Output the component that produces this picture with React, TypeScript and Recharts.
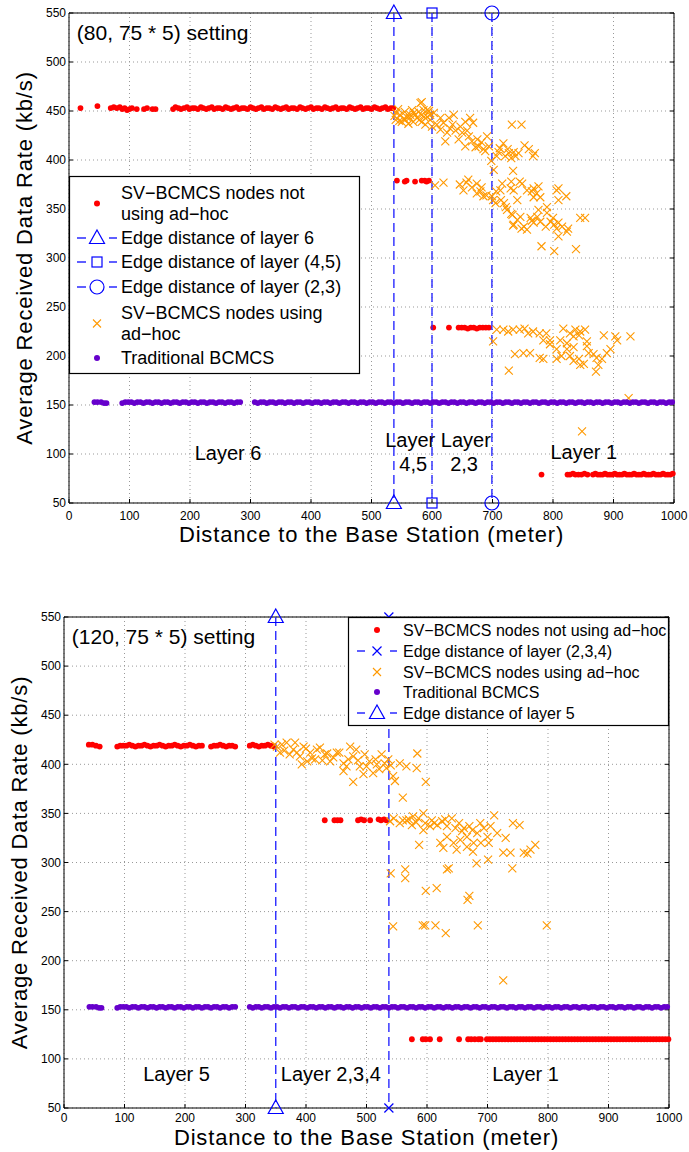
import React from 'react';
import { ScatterChart, Scatter, XAxis, YAxis, CartesianGrid, ReferenceDot } from 'recharts';

const FONT = '"Liberation Sans", Arial, Helvetica, sans-serif';
const RED = '#ff0000';
const ORANGE = '#ff9900';
const PURPLE = '#6600cc';
const BLUE = '#0000ff';
const DASH_BLUE = '#2a2aff';

const xTicks = [0, 100, 200, 300, 400, 500, 600, 700, 800, 900, 1000];
const yTicks = [50, 100, 150, 200, 250, 300, 350, 400, 450, 500, 550];
const yDomain = [50, 550];

// ---- (80, 75*5) setting ----
const topDirectRates = [
  [19, 453], [47, 455], [69, 453], [74, 454], [79, 453], [84, 454], [88, 452], [92, 453], [96, 451], [100, 452],
  [104, 453], [112, 452], [124, 452], [129, 453], [138, 452], [143, 452], [172, 452], [176, 454], [181, 453], [185, 452],
  [190, 453], [195, 454], [199, 452], [204, 453], [208, 453], [213, 452], [218, 454], [222, 453], [227, 452], [231, 453],
  [236, 454], [240, 452], [245, 453], [249, 453], [254, 452], [259, 454], [263, 453], [268, 452], [272, 453], [277, 454],
  [281, 452], [286, 453], [290, 453], [295, 452], [300, 454], [304, 453], [309, 452], [313, 453], [318, 454], [322, 452],
  [327, 453], [331, 453], [336, 452], [341, 454], [345, 453], [350, 452], [354, 453], [359, 454], [363, 452], [368, 453],
  [372, 453], [377, 452], [382, 454], [386, 453], [391, 452], [395, 453], [400, 454], [404, 452], [409, 453], [413, 453],
  [418, 452], [423, 454], [427, 453], [432, 452], [436, 453], [441, 454], [445, 452], [450, 453], [454, 453], [459, 452],
  [464, 454], [468, 453], [473, 452], [477, 453], [482, 454], [486, 452], [491, 453], [495, 453], [500, 452], [505, 454],
  [509, 453], [514, 452], [518, 453], [523, 454], [527, 452], [532, 453], [536, 453],
  [542, 379], [555, 378], [558, 379], [572, 378], [583, 379], [588, 379], [591, 378], [595, 379],
  [602, 229], [628, 229], [644, 229], [649, 229], [654, 229], [659, 228], [664, 229], [669, 229], [674, 228], [679, 229],
  [684, 229], [689, 229], [694, 229],
  [781, 79], [824, 79], [828, 79], [833, 80], [837, 79], [842, 79], [847, 79], [852, 80], [857, 79], [866, 79],
  [870, 80], [874, 79], [878, 79], [882, 79], [886, 80], [890, 79], [894, 79], [898, 79], [902, 80], [906, 79],
  [910, 79], [914, 79], [918, 80], [922, 79], [926, 79], [930, 79], [934, 80], [938, 79], [942, 79], [946, 79],
  [950, 80], [954, 79], [958, 79], [962, 79], [966, 80], [970, 79], [974, 79], [978, 79], [982, 80], [986, 79],
  [990, 79], [994, 79], [998, 80],
];

const topAdhocRates = [
  [541, 448], [544, 452], [547, 446], [550, 439], [553, 442], [555, 449], [558, 444], [561, 437], [564, 446], [567, 451],
  [569, 439], [572, 446], [575, 443], [578, 449], [581, 458], [583, 446], [583, 439], [586, 451], [589, 436], [592, 444],
  [592, 451], [595, 450], [597, 441], [597, 446], [600, 434], [603, 448], [538, 445], [540, 441], [546, 440], [556, 441],
  [563, 443], [570, 448], [579, 441], [587, 444], [583, 459],
  [614, 431], [614, 443], [619, 438], [622, 419], [625, 428], [628, 443], [634, 436], [636, 446], [639, 430], [644, 421],
  [650, 428], [655, 439], [655, 414], [661, 424], [663, 443], [666, 419], [668, 438], [672, 413], [677, 414], [685, 411],
  [691, 424], [694, 414], [608, 436], [630, 432], [647, 434], [658, 430], [675, 421], [682, 418], [688, 409],
  [732, 436], [748, 436],
  [698, 399], [702, 390], [707, 404], [710, 408], [718, 417], [721, 404], [727, 407], [735, 408], [738, 404], [743, 407],
  [753, 415], [767, 404], [770, 407], [712, 412], [725, 411], [731, 402], [760, 411], [734, 389],
  [605, 374], [619, 377], [646, 375], [652, 369], [657, 377], [660, 380], [666, 372], [674, 366], [674, 376], [680, 368],
  [682, 372], [685, 363], [690, 364], [699, 363], [701, 359], [705, 356], [706, 368], [713, 369], [714, 359], [716, 376],
  [719, 356], [722, 352], [724, 349], [730, 371], [731, 378], [731, 345], [733, 344], [735, 369], [735, 334], [741, 359],
  [741, 339], [745, 378], [746, 342], [748, 330], [749, 376], [752, 332], [757, 369], [757, 329], [763, 341], [765, 368],
  [765, 338], [768, 371], [768, 362], [768, 336], [773, 366], [774, 342], [776, 373], [776, 349], [779, 362], [779, 337],
  [781, 312], [788, 332], [790, 352], [790, 346], [796, 337], [800, 341], [802, 334], [802, 307], [806, 369], [806, 330],
  [809, 371], [809, 359], [809, 336], [809, 322], [815, 332], [822, 363], [823, 327], [825, 330], [838, 309], [845, 341],
  [853, 341], [734, 333],
  [701, 215], [707, 227], [718, 227], [726, 225], [734, 227], [745, 227], [753, 228], [759, 223], [767, 225], [778, 223],
  [789, 223], [795, 216], [784, 216], [817, 228], [828, 223], [837, 227], [845, 225], [853, 227], [834, 220], [843, 221],
  [884, 221], [903, 220], [928, 220], [906, 216], [812, 216], [823, 213], [856, 215], [737, 202], [751, 203], [762, 203],
  [778, 198], [784, 197], [806, 197], [814, 200], [823, 207], [828, 200], [834, 195], [843, 197], [851, 192], [845, 191],
  [859, 203], [867, 202], [872, 198], [881, 197], [889, 203], [895, 207], [875, 191], [871, 184], [727, 185], [795, 212],
  [806, 207], [834, 209], [856, 210], [925, 157], [848, 123],
];

const topEdges = [
  { x: 537, marker: 'triangle' },
  { x: 600, marker: 'square' },
  { x: 699, marker: 'circle' },
];

// same node layout is used by the traditional scheme in both settings
const traditionalRates = [
  [42, 153], [47, 153], [53, 153], [58, 152], [62, 152], [88, 152], [93, 153], [98, 153], [103, 153], [108, 152],
  [113, 153], [118, 153], [123, 152], [128, 153], [133, 153], [138, 152], [143, 153], [148, 153], [153, 152], [158, 153],
  [163, 153], [168, 152], [173, 153], [178, 153], [183, 152], [188, 153], [193, 153], [198, 152], [203, 153], [208, 153],
  [213, 152], [218, 153], [223, 153], [228, 152], [233, 153], [238, 153], [243, 152], [248, 153], [253, 153], [258, 152],
  [263, 153], [268, 153], [273, 152], [278, 153], [283, 153], [307, 153], [312, 152], [317, 153], [322, 153], [327, 152],
  [332, 153], [337, 153], [342, 152], [347, 153], [352, 153], [357, 152], [362, 153], [367, 153], [372, 152], [377, 153],
  [382, 153], [387, 152], [392, 153], [397, 153], [402, 152], [407, 153], [412, 153], [417, 152], [422, 153], [427, 153],
  [432, 152], [437, 153], [442, 153], [447, 152], [452, 153], [457, 153], [462, 152], [467, 153], [472, 153], [477, 152],
  [482, 153], [487, 153], [492, 152], [497, 153], [502, 153], [507, 152], [512, 153], [517, 153], [522, 152], [527, 153],
  [532, 153], [537, 152], [542, 153], [547, 153], [552, 152], [557, 153], [562, 153], [567, 152], [572, 153], [577, 153],
  [582, 152], [587, 153], [592, 153], [597, 152], [602, 153], [607, 153], [612, 152], [617, 153], [622, 153], [627, 152],
  [632, 153], [637, 153], [642, 152], [647, 153], [652, 153], [657, 152], [662, 153], [667, 153], [672, 152], [677, 153],
  [682, 153], [687, 152], [692, 153], [697, 153], [702, 152], [707, 153], [712, 153], [717, 152], [722, 153], [727, 153],
  [732, 152], [737, 153], [742, 153], [747, 152], [752, 153], [757, 153], [762, 152], [767, 153], [772, 153], [777, 152],
  [782, 153], [787, 153], [792, 152], [797, 153], [802, 153], [807, 152], [812, 153], [817, 153], [822, 152], [827, 153],
  [832, 153], [837, 152], [842, 153], [847, 153], [852, 152], [857, 153], [862, 153], [867, 152], [872, 153], [877, 153],
  [882, 152], [887, 153], [892, 153], [897, 152], [902, 153], [907, 153], [912, 152], [917, 153], [922, 153], [927, 152],
  [932, 153], [937, 153], [942, 152], [947, 153], [952, 153], [957, 152], [962, 153], [967, 153], [972, 152], [977, 153],
  [982, 153], [987, 152], [992, 153], [997, 153],
];

// ---- (120, 75*5) setting ----
const bottomDirectRates = [
  [41, 420], [47, 420], [53, 419], [59, 418], [88, 418], [93, 419], [98, 419], [103, 419], [108, 420], [113, 419],
  [118, 418], [123, 419], [128, 419], [133, 420], [138, 419], [143, 418], [148, 419], [153, 419], [158, 420], [163, 419],
  [168, 418], [173, 419], [178, 419], [183, 420], [188, 419], [193, 418], [198, 419], [203, 419], [208, 420], [213, 419],
  [218, 418], [223, 419], [228, 419], [243, 418], [248, 419], [253, 419], [258, 420], [263, 419], [268, 418], [273, 419],
  [278, 419], [283, 418], [307, 419], [312, 420], [317, 419], [322, 418], [327, 419], [332, 419], [337, 420], [342, 419],
  [347, 418],
  [431, 343], [447, 343], [452, 343], [457, 343], [486, 343], [491, 344], [496, 343], [506, 343], [520, 344], [524, 343],
  [529, 344], [533, 343],
  [575, 120], [593, 120], [598, 120], [605, 120], [621, 120], [653, 120], [668, 120], [673, 120], [679, 120], [685, 120],
  [689, 120], [699, 120], [704, 120], [709, 120], [714, 120], [719, 120], [724, 120], [729, 120], [734, 120], [739, 120],
  [744, 120], [749, 120], [754, 120], [759, 120], [764, 120], [769, 120], [774, 120], [779, 120], [784, 120], [789, 120],
  [794, 120], [799, 120], [804, 120], [809, 120], [814, 120], [819, 120], [824, 120], [829, 120], [834, 120], [839, 120],
  [844, 120], [849, 120], [854, 120], [859, 120], [864, 120], [869, 120], [874, 120], [879, 120], [884, 120], [889, 120],
  [894, 120], [899, 120], [904, 120], [909, 120], [914, 120], [919, 120], [924, 120], [929, 120], [934, 120], [939, 120],
  [944, 120], [949, 120], [954, 120], [959, 120], [964, 120], [969, 120], [974, 120], [979, 120], [984, 120], [989, 120],
  [994, 120], [999, 120],
];

const bottomAdhocRates = [
  [348, 420], [352, 418], [357, 412], [360, 420], [364, 414], [368, 422], [373, 410], [379, 415], [382, 422], [385, 412],
  [390, 408], [393, 400], [396, 418], [400, 416], [402, 403], [407, 412], [410, 406], [415, 405], [418, 415], [423, 417],
  [427, 404], [431, 410], [435, 411], [440, 403], [445, 407], [451, 412], [455, 412], [462, 401], [462, 393], [467, 398],
  [470, 405], [473, 418], [478, 408], [478, 382], [483, 415], [486, 404], [489, 398], [495, 390], [497, 410], [500, 398],
  [505, 403], [511, 391], [515, 405], [517, 400], [521, 395], [525, 410], [530, 401], [533, 396], [536, 405], [540, 399],
  [544, 388], [547, 383], [555, 401], [566, 398], [583, 396], [584, 411], [598, 382], [560, 366],
  [539, 342], [545, 345], [555, 340], [560, 343], [566, 343], [570, 344], [575, 338], [577, 347], [582, 341], [586, 345],
  [594, 350], [594, 333], [597, 340], [605, 337], [608, 343], [612, 340], [617, 338], [625, 342], [630, 344], [633, 337],
  [641, 345], [647, 335], [653, 340], [658, 332], [661, 335], [666, 326], [670, 337], [675, 333], [683, 330], [688, 340],
  [694, 335], [705, 337], [711, 348], [700, 326], [689, 320], [716, 330], [730, 325], [622, 320], [633, 326], [644, 320],
  [655, 323], [666, 316], [677, 320], [587, 318], [627, 315], [649, 313], [702, 320], [742, 340], [753, 338], [726, 310],
  [738, 310], [760, 310], [771, 313], [779, 318], [676, 311], [682, 299], [701, 303], [741, 294], [766, 309],
  [540, 289], [564, 293], [564, 284], [598, 271], [616, 274], [633, 293], [636, 294], [667, 262], [670, 266], [544, 235],
  [593, 236], [597, 236], [614, 236], [631, 228], [684, 236], [798, 236], [726, 180],
];

const bottomEdges = [
  { x: 537, marker: 'x' },
  { x: 350, marker: 'triangle' },
];

const topNotes = [
  { x: 13, y: 530, text: '(80, 75 * 5) setting', anchor: 'start', big: true },
  { x: 263, y: 101, text: 'Layer 6', anchor: 'middle' },
  { x: 564, y: 114, text: 'Layer', anchor: 'middle' },
  { x: 569, y: 90, text: '4,5', anchor: 'middle' },
  { x: 656, y: 114, text: 'Layer', anchor: 'middle' },
  { x: 653, y: 90, text: '2,3', anchor: 'middle' },
  { x: 851, y: 102, text: 'Layer 1', anchor: 'middle' },
];

const bottomNotes = [
  { x: 13, y: 530, text: '(120, 75 * 5) setting', anchor: 'start', big: true },
  { x: 186, y: 85, text: 'Layer 5', anchor: 'middle' },
  { x: 441, y: 85, text: 'Layer 2,3,4', anchor: 'middle' },
  { x: 763, y: 85, text: 'Layer 1', anchor: 'middle' },
];

const topLegendRows = [
  { kind: 'dot', color: RED, lines: ['SV\u2212BCMCS nodes not', 'using ad\u2212hoc'] },
  { kind: 'edge', marker: 'triangle', lines: ['Edge distance of layer 6'] },
  { kind: 'edge', marker: 'square', lines: ['Edge distance of layer (4,5)'] },
  { kind: 'edge', marker: 'circle', lines: ['Edge distance of layer (2,3)'] },
  { kind: 'cross', lines: ['SV\u2212BCMCS nodes using', 'ad\u2212hoc'] },
  { kind: 'dot', color: PURPLE, lines: ['Traditional BCMCS'] },
];

const bottomLegendRows = [
  { kind: 'dot', color: RED, lines: ['SV\u2212BCMCS nodes not using ad\u2212hoc'] },
  { kind: 'edge', marker: 'x', lines: ['Edge distance of layer (2,3,4)'] },
  { kind: 'cross', lines: ['SV\u2212BCMCS nodes using ad\u2212hoc'] },
  { kind: 'dot', color: PURPLE, lines: ['Traditional BCMCS'] },
  { kind: 'edge', marker: 'triangle', lines: ['Edge distance of layer 5'] },
];

const toPoints = (pairs: number[][]) => pairs.map(([x, y]) => ({ x, y }));
const edgePoints = (x: number) => [{ x, y: yDomain[1] }, { x, y: yDomain[0] }];

function Marker({ kind, cx, cy }: { kind: string; cx: number; cy: number }) {
  const common = { fill: 'none', stroke: BLUE, strokeWidth: 1.2 };
  if (kind === 'triangle') {
    return <path d={`M${cx},${cy - 8}L${cx + 7.5},${cy + 5.5}L${cx - 7.5},${cy + 5.5}Z`} {...common} />;
  }
  if (kind === 'square') return <rect x={cx - 5} y={cy - 5} width={10} height={10} {...common} />;
  if (kind === 'circle') return <circle cx={cx} cy={cy} r={7} {...common} />;
  const s = 4.5;
  return <path d={`M${cx - s},${cy - s}L${cx + s},${cy + s}M${cx - s},${cy + s}L${cx + s},${cy - s}`} {...common} />;
}

function Cross({ cx, cy }: { cx: number; cy: number }) {
  const s = 4;
  return (
    <path
      d={`M${cx - s},${cy - s}L${cx + s},${cy + s}M${cx - s},${cy + s}L${cx + s},${cy - s}`}
      stroke={ORANGE}
      strokeWidth={1.1}
      fill="none"
    />
  );
}

const dotShape = (color: string) => (p: any) => <circle cx={p.cx} cy={p.cy} r={2.9} fill={color} />;
const crossShape = (p: any) => <Cross cx={p.cx} cy={p.cy} />;
const markerShape = (kind: string) => (p: any) => <Marker kind={kind} cx={p.cx} cy={p.cy} />;

function LegendBox({ rows, box, rowYs, symbolX, textX, fontSize, lineGap, dash }: any) {
  return (
    <g>
      <rect x={box.x} y={box.y} width={box.w} height={box.h} fill="#fff" stroke="#000" strokeWidth={1.2} />
      {rows.map((row: any, i: number) => {
        const cy = rowYs[i];
        let symbol = null;
        if (row.kind === 'dot') symbol = <circle cx={symbolX} cy={cy} r={3} fill={row.color} />;
        if (row.kind === 'cross') symbol = <Cross cx={symbolX} cy={cy} />;
        if (row.kind === 'edge') {
          symbol = (
            <g>
              <line x1={dash[0]} x2={dash[1]} y1={cy} y2={cy} stroke={DASH_BLUE} strokeWidth={1.4} strokeDasharray={dash[2]} />
              <Marker kind={row.marker} cx={symbolX} cy={cy} />
            </g>
          );
        }
        return (
          <g key={i}>
            {symbol}
            {row.lines.map((t: string, j: number) => (
              <text
                key={j}
                x={textX}
                y={cy + (j - (row.lines.length - 1) / 2) * lineGap}
                dominantBaseline="central"
                fontSize={fontSize}
                fontFamily={FONT}
                fill="#000"
              >
                {t}
              </text>
            ))}
          </g>
        );
      })}
    </g>
  );
}

const tickStyle = { fontSize: 12, fill: '#000', fontFamily: FONT };
const blackLine = { stroke: '#000', strokeWidth: 1 };

function RatePanel(props: any) {
  const {
    height, margin, yAxisWidth, xAxisHeight, xTickMargin, xLabelOffset, yLabelX,
    direct, adhoc, edges, notes, legend,
  } = props;

  return (
    <div style={{ position: 'relative', width: 689, height }}>
      <ScatterChart width={689} height={height} margin={margin}>
        <CartesianGrid stroke="#999" strokeDasharray="1 3" />
        <XAxis
          type="number"
          dataKey="x"
          domain={[0, 1000]}
          ticks={xTicks}
          interval={0}
          height={xAxisHeight}
          tickSize={-4}
          tickMargin={xTickMargin}
          tick={tickStyle}
          axisLine={blackLine}
          tickLine={blackLine}
          label={{
            content: (p: any) => {
              const vb = p.viewBox;
              return (
                <text
                  x={vb.x + vb.width / 2}
                  y={vb.y + vb.height - xLabelOffset}
                  textAnchor="middle"
                  fontSize={22}
                  letterSpacing={0.85}
                  fontFamily={FONT}
                  fill="#000"
                >
                  Distance to the Base Station (meter)
                </text>
              );
            },
          }}
        />
        <XAxis
          xAxisId="top"
          orientation="top"
          type="number"
          domain={[0, 1000]}
          ticks={xTicks}
          interval={0}
          height={1}
          tickSize={-4}
          tickFormatter={() => ''}
          axisLine={blackLine}
          tickLine={blackLine}
          allowDataOverflow
        />
        <YAxis
          type="number"
          dataKey="y"
          domain={yDomain}
          ticks={yTicks}
          interval={0}
          width={yAxisWidth}
          tickSize={-4}
          tickMargin={7}
          tick={tickStyle}
          axisLine={blackLine}
          tickLine={blackLine}
          label={{
            content: (p: any) => {
              const vb = p.viewBox;
              const cy = vb.y + vb.height / 2;
              return (
                <text
                  x={yLabelX}
                  y={cy}
                  transform={`rotate(-90 ${yLabelX} ${cy})`}
                  textAnchor="middle"
                  fontSize={22}
                  letterSpacing={0.85}
                  fontFamily={FONT}
                  fill="#000"
                >
                  Average Received Data Rate (kb/s)
                </text>
              );
            },
          }}
        />
        <YAxis
          yAxisId="right"
          orientation="right"
          type="number"
          domain={yDomain}
          ticks={yTicks}
          interval={0}
          width={1}
          tickSize={-4}
          tickFormatter={() => ''}
          axisLine={blackLine}
          tickLine={blackLine}
          allowDataOverflow
        />

        <Scatter data={toPoints(direct)} shape={dotShape(RED)} isAnimationActive={false} />
        {edges.map((e: any) => (
          <Scatter
            key={e.x}
            data={edgePoints(e.x)}
            line={{ stroke: DASH_BLUE, strokeWidth: 1.4, strokeDasharray: '9 5' }}
            lineType="joint"
            shape={markerShape(e.marker)}
            isAnimationActive={false}
          />
        ))}
        <Scatter data={toPoints(adhoc)} shape={crossShape} isAnimationActive={false} />
        <Scatter data={toPoints(traditionalRates)} shape={dotShape(PURPLE)} isAnimationActive={false} />

        {notes.map((n: any, i: number) => (
          <ReferenceDot
            key={i}
            x={n.x}
            y={n.y}
            r={0}
            shape={(p: any) => (
              <text
                x={p.cx}
                y={p.cy}
                textAnchor={n.anchor}
                dominantBaseline="central"
                fontSize={n.big ? 21 : 20}
                fontFamily={FONT}
                fill="#000"
              >
                {n.text}
              </text>
            )}
          />
        ))}
      </ScatterChart>
      <svg
        width={689}
        height={height}
        style={{ position: 'absolute', left: 0, top: 0, pointerEvents: 'none' }}
      >
        <LegendBox {...legend} />
      </svg>
    </div>
  );
}

export default function App() {
  return (
    <div style={{ position: 'absolute', left: 0, top: 0, width: 689, height: 1152, background: '#fff' }}>
      <div style={{ position: 'absolute', left: 0, top: 0 }}>
        <RatePanel
          height={552}
          margin={{ top: 12, right: 14, bottom: 0, left: 0 }}
          yAxisWidth={69}
          xAxisHeight={49}
          xTickMargin={12.5}
          xLabelOffset={10}
          yLabelX={31.5}
          direct={topDirectRates}
          adhoc={topAdhocRates}
          edges={topEdges}
          notes={topNotes}
          legend={{
            rows: topLegendRows,
            box: { x: 69.5, y: 176.5, w: 290, h: 197 },
            rowYs: [203.5, 238, 262, 287, 323.5, 358],
            symbolX: 97,
            textX: 121,
            fontSize: 18,
            lineGap: 21,
            dash: [77, 117, '9 23'],
          }}
        />
      </div>
      <div style={{ position: 'absolute', left: 0, top: 576 }}>
        <RatePanel
          height={576}
          margin={{ top: 40, right: 19, bottom: 0, left: 0 }}
          yAxisWidth={64}
          xAxisHeight={44}
          xTickMargin={9}
          xLabelOffset={7}
          yLabelX={26.5}
          direct={bottomDirectRates}
          adhoc={bottomAdhocRates}
          edges={bottomEdges}
          notes={bottomNotes}
          legend={{
            rows: bottomLegendRows,
            box: { x: 348.5, y: 41.5, w: 320, h: 108 },
            rowYs: [54, 75, 96, 116, 137],
            symbolX: 377,
            textX: 403,
            fontSize: 16,
            lineGap: 21,
            dash: [357, 397, '8 25'],
          }}
        />
      </div>
    </div>
  );
}
